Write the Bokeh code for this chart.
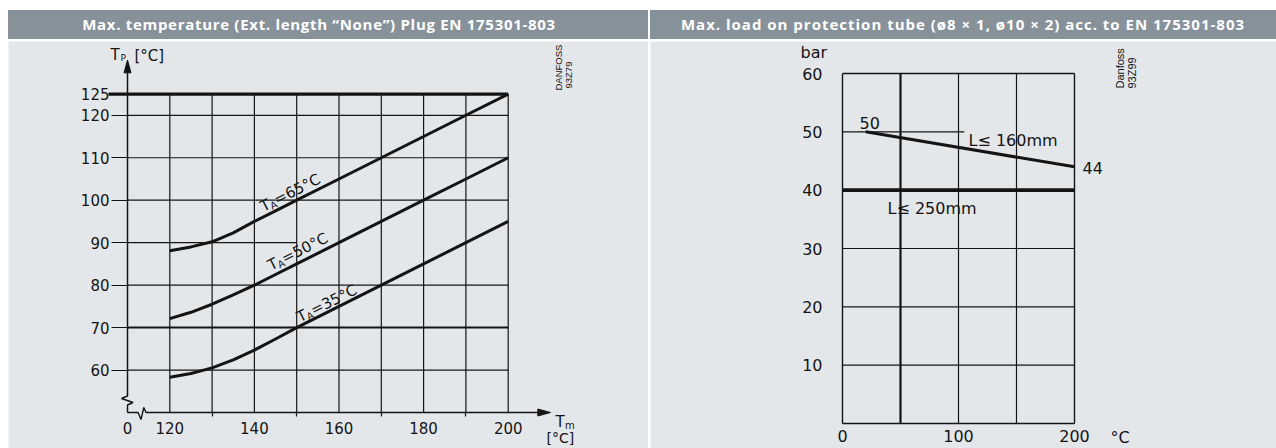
import math
import numpy as np
from bokeh.plotting import figure
from bokeh.models import Range1d, FixedTicker, Label, Div
from bokeh.layouts import row, column
from bokeh.embed import file_html
from bokeh.resources import INLINE

PANEL_BG = "#e4e7ea"
HEAD_BG = "#87919a"
INK = "#141414"
FONT = "DejaVu Sans"
BASE_FIX = 5.5   # px: lift Label text so its baseline sits on the anchor

# ---------------- left chart data ----------------
left_title = "Max. temperature (Ext. length \u201cNone\u201d) Plug EN 175301-803"
tm_tick_values = [110, 120, 140, 160, 180, 200]
tm_tick_text = ["0", "120", "140", "160", "180", "200"]
tm_minor = [130, 150, 170, 190]
tm_grid = [120, 130, 140, 150, 160, 170, 180, 190, 200]
tp_tick_values = [60, 70, 80, 90, 100, 110, 120, 125]
tp_grid_full = [60, 80, 100, 110, 120]
tp_grid_bold = [70]
tp_grid_short = [90]
tp_short_end = 150
tp_max = 125
tm_curve = [120, 125, 130, 135, 140, 145, 150, 160, 170, 180, 190, 200]
tp_65 = [88.1, 89.0, 90.2, 92.3, 95.0, 97.5, 100.0, 105.0, 110.0, 115.0, 120.0, 125.0]
tp_50 = [72.1, 73.6, 75.5, 77.7, 80.0, 82.5, 85.0, 90.0, 95.0, 100.0, 105.0, 110.0]
tp_35 = [58.3, 59.2, 60.5, 62.4, 64.7, 67.3, 70.0, 75.0, 80.0, 85.0, 90.0, 95.0]
ta_names = ["65", "50", "35"]
ta_label_tm = [142.6, 144.5, 151.1]
ta_label_gap = [4.0, 5.0, 2.5]

# ---------------- right chart data ----------------
right_title = "Max. load on protection tube (\u00f88 \u00d7 1, \u00f810 \u00d7 2) acc. to EN 175301-803"
t_tick_values = [0, 100, 200]
bar_tick_values = [10, 20, 30, 40, 50, 60]
t_grid = [100, 150]
t_grid_bold = [50]
bar_grid = [10, 20, 30]
bar_grid_short = [50]
bar_short_end = 105
l160_t = [20, 200]
l160_bar = [50, 44]
l250_t = [0, 200]
l250_bar = [40, 40]


def header(text, width, spacing, indent):
    return Div(text=text, width=width, height=29, margin=0, styles={
        "background-color": HEAD_BG, "color": "white",
        "font-family": "'Open Sans', sans-serif", "font-weight": "700",
        "font-size": "15px", "line-height": "29px", "text-align": "center",
        "letter-spacing": spacing, "text-indent": indent,
        "white-space": "nowrap", "overflow": "hidden"})


def lab(p, x, y, text, size="15px", font=FONT, angle=0.0, u=0.0, v=0.0):
    vv = v + BASE_FIX
    xo = u * math.cos(angle) - vv * math.sin(angle)
    yo = u * math.sin(angle) + vv * math.cos(angle)
    p.add_layout(Label(x=x, y=y, x_offset=xo, y_offset=yo, text=text, text_font=font,
                       text_font_size=size, text_color=INK, angle=angle,
                       text_align="left", text_baseline="alphabetic"))


FIG_H = 407
FIG_TOP = 41          # page y of the figures' top edge

# ======================= LEFT =======================
XS_L = 4.23           # px per degree (Tm)
YS_L = 4.246          # px per degree (Tp)
x0_l, y0_l = tm_tick_values[0], 50
OX_L, OY_L = 127, 412  # page position of the axis origin
L_LEFT, L_W = 8, 640


def pg_l(px, py):
    return x0_l + (px - OX_L) / XS_L, y0_l + (OY_L - py) / YS_L


lx_a, ly_a = pg_l(L_LEFT, FIG_TOP + FIG_H)
lx_b, ly_b = pg_l(L_LEFT + L_W, FIG_TOP)
pl = figure(width=L_W, height=FIG_H,
            x_range=Range1d(lx_a, lx_b), y_range=Range1d(ly_a, ly_b),
            output_backend="svg", toolbar_location=None, tools="",
            min_border=0, min_border_left=0, min_border_right=0,
            min_border_top=0, min_border_bottom=0,
            background_fill_color=PANEL_BG, border_fill_color=PANEL_BG,
            outline_line_color=None)
pl.grid.visible = False

xa = pl.xaxis[0]
xa.fixed_location = y0_l
xa.ticker = FixedTicker(ticks=tm_tick_values, minor_ticks=tm_minor)
xa.major_label_overrides = {v: t for v, t in zip(tm_tick_values, tm_tick_text)}
xa.bounds = (x0_l, 207)
xa.axis_line_width = 1.5
xa.axis_line_color = INK
xa.major_tick_out = 0
xa.major_tick_in = 0
xa.minor_tick_out = 4
xa.minor_tick_in = 0
xa.minor_tick_line_color = INK
xa.minor_tick_line_width = 1.2
xa.major_label_standoff = 5
xa.major_label_text_font = FONT
xa.major_label_text_font_size = "15px"
xa.major_label_text_color = INK

ya = pl.yaxis[0]
ya.fixed_location = x0_l
ya.ticker = FixedTicker(ticks=tp_tick_values, minor_ticks=[])
ya.bounds = (y0_l, 130)
ya.axis_line_width = 1.5
ya.axis_line_color = INK
ya.major_tick_out = 16
ya.major_tick_in = 0
ya.major_tick_line_color = INK
ya.major_tick_line_width = 1.2
ya.minor_tick_out = 0
ya.minor_tick_in = 0
ya.major_label_standoff = 2
ya.major_label_text_font = FONT
ya.major_label_text_font_size = "15px"
ya.major_label_text_color = INK

# grid
n = len(tm_grid)
pl.segment(x0=tm_grid, y0=[y0_l] * n, x1=tm_grid, y1=[tp_max] * n, line_color=INK, line_width=1.2)
pl.segment(x0=[x0_l] * len(tp_grid_full), y0=tp_grid_full, x1=[tm_grid[-1]] * len(tp_grid_full),
           y1=tp_grid_full, line_color=INK, line_width=1.2)
pl.segment(x0=[x0_l] * len(tp_grid_bold), y0=tp_grid_bold, x1=[tm_grid[-1]] * len(tp_grid_bold),
           y1=tp_grid_bold, line_color=INK, line_width=2)
pl.segment(x0=[x0_l] * len(tp_grid_short), y0=tp_grid_short, x1=[tp_short_end] * len(tp_grid_short),
           y1=tp_grid_short, line_color=INK, line_width=1.2)
pl.line(x=[x0_l - 19 / XS_L, tm_grid[-1]], y=[tp_max, tp_max], line_color=INK, line_width=3.2)

for ys in (tp_65, tp_50, tp_35):
    pl.line(x=tm_curve, y=ys, line_color=INK, line_width=3, line_join="round")

# axis arrows
pl.patch(x=[x0_l - 3.5 / XS_L, x0_l, x0_l + 3.5 / XS_L],
         y=[130, 133, 130], fill_color=INK, line_color=INK, line_width=1)
pl.patch(x=[207, 210, 207],
         y=[y0_l + 3.5 / YS_L, y0_l, y0_l - 3.5 / YS_L], fill_color=INK, line_color=INK, line_width=1)


# axis breaks (pixel offsets from origin)
def px2l(dx, dy):
    return x0_l + dx / XS_L, y0_l + dy / YS_L


mx0, my0 = px2l(-2, 4)
mx1, my1 = px2l(2, 17.5)
pl.quad(left=[mx0], right=[mx1], bottom=[my0], top=[my1], fill_color=PANEL_BG,
        line_color=None, level="overlay")
mx0, my0 = px2l(9.5, -2)
mx1, my1 = px2l(19.5, 2)
pl.quad(left=[mx0], right=[mx1], bottom=[my0], top=[my1], fill_color=PANEL_BG,
        line_color=None, level="overlay")
yb = [px2l(*d) for d in [(0, 18), (0, 16.5), (-6, 14), (5.5, 10), (0, 7.5), (0, 3.5)]]
pl.line(x=[p[0] for p in yb], y=[p[1] for p in yb], line_color=INK, line_width=1.4, level="overlay")
xb = [px2l(*d) for d in [(9, 0), (10.5, 0), (13.5, -7), (16.3, 5), (18.5, 0), (20, 0)]]
pl.line(x=[p[0] for p in xb], y=[p[1] for p in xb], line_color=INK, line_width=1.4, level="overlay")

# rotated curve labels
slope = (tp_65[-1] - tp_65[-3]) / (tm_curve[-1] - tm_curve[-3])
theta = math.atan(slope * YS_L / XS_L)
curves = [tp_65, tp_50, tp_35]

for name, lx, gap, ys in zip(ta_names, ta_label_tm, ta_label_gap, curves):
    ly = float(np.interp(lx, tm_curve, ys))
    lab(pl, lx, ly, "T", "15px", angle=theta, u=0, v=gap)
    lab(pl, lx, ly, "A", "10px", angle=theta, u=8.8, v=gap - 3.5)
    lab(pl, lx, ly, "=" + name + "\u00b0C", "15px", angle=theta, u=15.5, v=gap)

lab(pl, *pg_l(110, 60), "T", "15px")
lab(pl, *pg_l(120, 62.5), "P", "9px")
lab(pl, *pg_l(134, 60.5), "[\u00b0C]", "15px")
lab(pl, *pg_l(555, 427), "T", "15px")
lab(pl, *pg_l(564.5, 430.5), "m", "10px")
lab(pl, *pg_l(546, 443), "[\u00b0C]", "14px")
lab(pl, *pg_l(563, 90), "DANFOSS", "9.5px", font="Liberation Sans", angle=math.pi / 2)
lab(pl, *pg_l(573, 88), "93Z79", "9.5px", font="Liberation Sans", angle=math.pi / 2)

# ======================= RIGHT =======================
XS_R = 232 / 200
YS_R = 350 / 60
OX_R, OY_R = 842, 423
R_LEFT, R_W = 650, 626


def pg_r(px, py):
    return (px - OX_R) / XS_R, (OY_R - py) / YS_R


rx_a, ry_a = pg_r(R_LEFT, FIG_TOP + FIG_H)
rx_b, ry_b = pg_r(R_LEFT + R_W, FIG_TOP)
pr = figure(width=R_W, height=FIG_H, x_range=Range1d(rx_a, rx_b), y_range=Range1d(ry_a, ry_b),
            output_backend="svg", toolbar_location=None, tools="",
            min_border=0, min_border_left=0, min_border_right=0,
            min_border_top=0, min_border_bottom=0,
            background_fill_color=PANEL_BG, border_fill_color=PANEL_BG,
            outline_line_color=None)
pr.grid.visible = False
tmax = t_tick_values[-1]
ymax = bar_tick_values[-1]
for ax, ticks, sto, bnd in ((pr.xaxis[0], t_tick_values, 6, (0, tmax)),
                            (pr.yaxis[0], bar_tick_values, 20, (0, ymax))):
    ax.fixed_location = 0
    ax.bounds = bnd
    ax.ticker = FixedTicker(ticks=ticks, minor_ticks=[])
    ax.axis_line_color = INK
    ax.axis_line_width = 1.4
    ax.major_tick_out = 0
    ax.major_tick_in = 0
    ax.minor_tick_out = 0
    ax.minor_tick_in = 0
    ax.major_label_standoff = sto
    ax.major_label_text_font = FONT
    ax.major_label_text_font_size = "16px"
    ax.major_label_text_color = INK

# frame top / right
pr.segment(x0=[0, tmax], y0=[ymax, 0], x1=[tmax, tmax], y1=[ymax, ymax], line_color=INK, line_width=1.4)
pr.segment(x0=t_grid, y0=[0] * len(t_grid), x1=t_grid, y1=[ymax] * len(t_grid),
           line_color=INK, line_width=1.2)
pr.segment(x0=t_grid_bold, y0=[0] * len(t_grid_bold), x1=t_grid_bold, y1=[ymax] * len(t_grid_bold),
           line_color=INK, line_width=2.2)
pr.segment(x0=[0] * len(bar_grid), y0=bar_grid, x1=[tmax] * len(bar_grid), y1=bar_grid,
           line_color=INK, line_width=1.2)
pr.segment(x0=[0] * len(bar_grid_short), y0=bar_grid_short, x1=[bar_short_end] * len(bar_grid_short),
           y1=bar_grid_short, line_color=INK, line_width=1.2)
pr.line(x=l250_t, y=l250_bar, line_color=INK, line_width=3.6)
pr.line(x=l160_t, y=l160_bar, line_color=INK, line_width=3)

lab(pr, *pg_r(859, 128), str(l160_bar[0]), "16px")
lab(pr, *pg_r(968, 145), "L\u2264 160mm", "16px")
lab(pr, *pg_r(1082, 173), str(l160_bar[-1]), "16px")
lab(pr, *pg_r(887, 213), "L\u2264 250mm", "16px")
lab(pr, *pg_r(800, 57), "bar", "16px")
lab(pr, *pg_r(1110, 442), "\u00b0C", "16px")
lab(pr, *pg_r(1125, 88), "Danfoss", "11px", font="Liberation Sans", angle=math.pi / 2)
lab(pr, *pg_r(1137, 88), "93Z99", "11px", font="Liberation Sans", angle=math.pi / 2)

layout = column(row(column(header(left_title, L_W, "0.7px", "-18px"), pl, spacing=2),
                    column(header(right_title, R_W, "1.0px", "0px"), pr, spacing=2), spacing=2),
                margin=(10, 0, 0, 8))

open("out.html", "w").write(file_html(layout, INLINE))
